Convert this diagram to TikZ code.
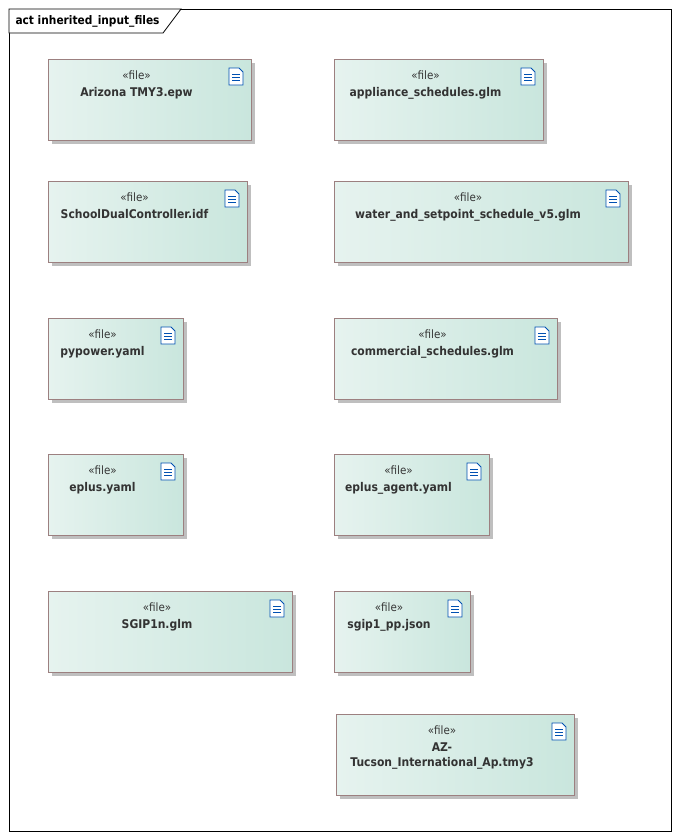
\documentclass[tikz,border=0pt]{standalone}
\usepackage{fontspec}
\setmainfont{DejaVu Sans Condensed}
\begin{document}
\begin{tikzpicture}[x=1pt,y=-1pt,
  doc/.style={draw=blue!55!cyan!70!black,line width=0.8pt}]
\definecolor{lft}{HTML}{E6F3EF}\definecolor{rgt}{HTML}{C9E6DD}\definecolor{brd}{HTML}{9C8080}
\useasboundingbox (0,0) rectangle (680,839);
\draw[line width=0.8pt] (9,9) rectangle (671,831);
\draw[line width=0.8pt,fill=white] (9,9) -- (181,9) -- (163,33) -- (9,33) -- cycle;
\node[anchor=west,font=\bfseries\fontsize{11.8}{13}\selectfont] (title) at (12,21) {act inherited\_input\_files};
\newcommand{\filebox}[6]{%
  \fill[black!25] (#1+4,#2+4) rectangle (#3+4,#4+4);
  \shade[left color=lft,right color=rgt] (#1,#2) rectangle (#3,#4);
  \draw[brd,line width=0.8pt] (#1,#2) rectangle (#3,#4);
  \node[font=\fontsize{11.5}{13}\selectfont,text=black!80] (#5s) at ({(#1+#3-26)/2},#2+16) {«file»};
  \node[font=\bfseries\fontsize{12}{15}\selectfont,text=black!80,align=center,anchor=north] (#5) at ({(#1+#3-26)/2},#2+25) {#6};
  \draw[doc,fill=white] (#3-22,#2+9) -- (#3-12,#2+9) -- (#3-8,#2+13) -- (#3-8,#2+26) -- (#3-22,#2+26) -- cycle;
  \draw[doc,line width=0.6pt] (#3-19,#2+15)--(#3-11,#2+15) (#3-19,#2+18)--(#3-11,#2+18) (#3-19,#2+21)--(#3-11,#2+21);
}
\filebox{48}{59}{251}{140}{a}{Arizona TMY3.epw}
\filebox{334}{59}{543}{140}{b}{appliance\_schedules.glm}
\filebox{48}{181}{247}{262}{c}{SchoolDualController.idf}
\filebox{334}{181}{628}{262}{d}{water\_and\_setpoint\_schedule\_v5.glm}
\filebox{48}{318}{183}{399}{e}{pypower.yaml}
\filebox{334}{318}{557}{399}{f}{commercial\_schedules.glm}
\filebox{48}{454}{183}{535}{g}{eplus.yaml}
\filebox{334}{454}{489}{535}{h}{eplus\_agent.yaml}
\filebox{48}{591}{292}{672}{i}{SGIP1n.glm}
\filebox{334}{591}{470}{672}{j}{sgip1\_pp.json}
\filebox{336}{714}{574}{795}{k}{AZ-\\Tucson\_International\_Ap.tmy3}
\end{tikzpicture}
\end{document}
